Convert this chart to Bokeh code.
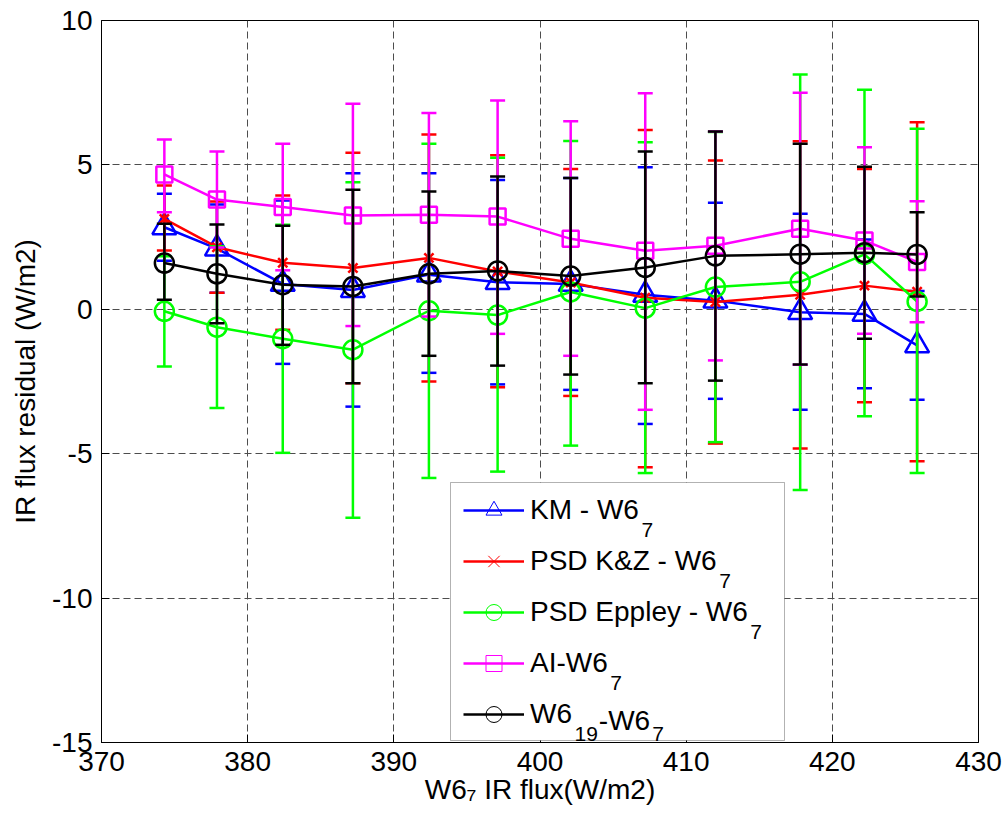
from bokeh.plotting import figure
from bokeh.models import (Range1d, Legend, LegendItem, Label, BoxAnnotation,
                          FixedTicker)
from bokeh.embed import file_html
from bokeh.resources import INLINE

# ---------------- data ----------------
x_flux = [374.3, 377.9, 382.4, 387.2, 392.4, 397.1, 402.1, 407.2, 412.0, 417.8, 422.2, 425.8]

km_mean = [2.84, 2.10, 0.88, 0.67, 1.20, 0.94, 0.88, 0.50, 0.30, -0.10, -0.16, -1.25]
km_hi = [4.00, 3.63, 3.77, 4.71, 4.71, 4.48, 4.55, 4.92, 3.69, 3.31, 2.42, 0.63]
km_lo = [1.68, 0.57, -1.89, -3.37, -2.20, -2.60, -2.79, -3.97, -3.10, -3.48, -2.73, -3.13]

kz_mean = [3.13, 2.15, 1.61, 1.43, 1.78, 1.31, 0.93, 0.40, 0.25, 0.50, 0.82, 0.61]
kz_hi = [4.29, 3.73, 3.94, 5.42, 6.05, 5.33, 4.86, 6.21, 5.15, 5.82, 4.86, 6.48]
kz_lo = [2.04, 0.57, -0.71, -2.56, -2.50, -2.70, -3.00, -5.47, -4.65, -4.82, -3.22, -5.26]

ep_mean = [-0.07, -0.62, -1.02, -1.40, -0.05, -0.20, 0.60, 0.04, 0.77, 0.95, 1.90, 0.27]
ep_hi = [1.84, 2.18, 2.93, 4.40, 5.73, 5.25, 5.83, 5.78, 6.14, 8.13, 7.60, 6.25]
ep_lo = [-1.98, -3.42, -4.97, -7.22, -5.84, -5.62, -4.72, -5.67, -4.60, -6.26, -3.70, -5.67]

ai_mean = [4.67, 3.80, 3.54, 3.25, 3.27, 3.21, 2.44, 2.03, 2.20, 2.79, 2.38, 1.64]
ai_hi = [5.88, 5.46, 5.73, 7.12, 6.80, 7.23, 6.51, 7.48, 6.16, 7.50, 5.61, 3.74]
ai_lo = [3.36, 2.14, 1.35, -0.58, -0.25, -0.85, -1.61, -3.48, -1.77, -1.92, -0.85, -0.45]

w19_mean = [1.60, 1.23, 0.85, 0.79, 1.23, 1.33, 1.15, 1.45, 1.85, 1.91, 1.96, 1.90]
w19_hi = [2.96, 2.94, 2.89, 4.14, 4.08, 4.60, 4.55, 5.46, 6.16, 5.73, 4.94, 3.36]
w19_lo = [0.33, -0.48, -1.23, -2.56, -1.61, -1.95, -2.26, -2.56, -2.47, -1.91, -1.02, 0.44]

x_ticks = [370, 380, 390, 400, 410, 420, 430]
y_ticks = [-15, -10, -5, 0, 5, 10]

legend_main = ["KM - W6", "PSD K&Z - W6", "PSD Eppley - W6", "AI-W6", "W6"]
x_label = "W6\u2087 IR flux(W/m2)"
y_label = "IR flux residual (W/m2)"

# ---------------- styling ----------------
FONT = "Liberation Sans"
FS = 28
SUB = 21
W, H = 1008, 820
LEFT, RIGHT, TOP, BOTTOM = 101, 30, 20, 78
FRAME_W = W - LEFT - RIGHT
FRAME_H = H - TOP - BOTTOM

# Arial / Liberation Sans advance widths (per 1000 em)
AW = {" ": 278, "&": 667, "(": 333, ")": 333, "-": 333, "/": 278,
      "A": 667, "D": 722, "E": 667, "I": 278, "K": 667, "M": 833, "P": 667,
      "R": 722, "S": 667, "W": 944, "Z": 611, "a": 556, "d": 556, "e": 556,
      "f": 278, "i": 222, "l": 222, "m": 833, "p": 556, "r": 333, "s": 500,
      "u": 556, "x": 500, "y": 500}
for d in "0123456789":
    AW[d] = 556


def tw(s, size):
    return sum(AW.get(c, 556) for c in s) * size / 1000.0


p = figure(width=W, height=H, x_range=Range1d(370, 430), y_range=Range1d(-15, 10),
           output_backend="svg", toolbar_location=None,
           min_border_left=LEFT, min_border_right=RIGHT,
           min_border_top=TOP, min_border_bottom=BOTTOM)
p.background_fill_color = "white"
p.border_fill_color = "white"
p.outline_line_color = "black"
p.outline_line_width = 1

for ax, ticks in ((p.xaxis, x_ticks), (p.yaxis, y_ticks)):
    ax.ticker = FixedTicker(ticks=ticks)
    ax.major_label_overrides = {t: str(t) for t in ticks}
    ax.major_tick_in = 8
    ax.major_tick_out = 0
    ax.minor_tick_line_color = None
    ax.axis_line_color = "black"
    ax.major_tick_line_color = "black"
    ax.major_label_text_font = FONT
    ax.major_label_text_font_size = f"{FS}px"
    ax.major_label_text_color = "black"
    ax.axis_label_text_font = FONT
    ax.axis_label_text_font_size = f"{FS}px"
    ax.axis_label_text_font_style = "normal"
    ax.axis_label_text_color = "black"
p.xaxis.major_label_standoff = 9
p.yaxis.major_label_standoff = 9
p.xaxis.axis_label = x_label
p.yaxis.axis_label = y_label
p.xaxis.axis_label_standoff = 0
p.yaxis.axis_label_standoff = 8

for g in (p.xgrid, p.ygrid):
    g.grid_line_color = "#4d4d4d"
    g.grid_line_dash = "7 4"
    g.grid_line_width = 1

series = [
    (km_mean, km_lo, km_hi, "#0000FF", "triangle", 24),
    (kz_mean, kz_lo, kz_hi, "#FF0000", "x", 13),
    (ep_mean, ep_lo, ep_hi, "#00FF00", "circle", 19),
    (ai_mean, ai_lo, ai_hi, "#FF00FF", "square", 16),
    (w19_mean, w19_lo, w19_hi, "#000000", "circle", 19),
]

LW = 2.5
legend_items = []
for (mean, lo, hi, col, mk, sz), lab in zip(series, legend_main):
    p.segment(x0=x_flux, y0=lo, x1=x_flux, y1=hi, line_color=col, line_width=LW)
    p.scatter(x=x_flux, y=lo, marker="dash", size=15, line_color=col, line_width=LW)
    p.scatter(x=x_flux, y=hi, marker="dash", size=15, line_color=col, line_width=LW)
    ln = p.line(x=x_flux, y=mean, line_color=col, line_width=LW)
    p.scatter(x=x_flux, y=mean, marker=mk, size=sz, line_color=col,
              fill_color=None, line_width=LW)
    proxy = p.scatter(x=x_flux, y=mean, marker=mk, size=sz, line_color=col,
                      fill_color=None, line_width=1, visible=False)
    legend_items.append(LegendItem(label=lab, renderers=[ln, proxy]))

# legend frame
BOX_L, BOX_R, BOX_T, BOX_B = 450, 784, 482, 740
p.add_layout(BoxAnnotation(left=BOX_L - LEFT, right=BOX_R - LEFT,
                           top=TOP + FRAME_H - BOX_T, bottom=TOP + FRAME_H - BOX_B,
                           left_units="screen", right_units="screen",
                           top_units="screen", bottom_units="screen",
                           fill_color="white", fill_alpha=1.0,
                           line_color="black", line_width=1))

GLYPH_X = 463
GLYPH_W = 61
STANDOFF = 6
ROW_H = 40
SPACING = 11
ROW0 = 509.5
leg = Legend(items=legend_items,
             location=(GLYPH_X - LEFT, TOP + FRAME_H - (ROW0 - ROW_H / 2 + 5 * ROW_H + 4 * SPACING)),
             padding=0, spacing=SPACING, glyph_height=ROW_H, glyph_width=GLYPH_W,
             label_standoff=STANDOFF, label_height=ROW_H,
             label_text_font=FONT, label_text_font_size=f"{FS}px",
             label_text_color="black",
             border_line_alpha=0, background_fill_alpha=0)
p.add_layout(leg)

TEXT_X = GLYPH_X + GLYPH_W + STANDOFF


def put(text, px, baseline_py, size):
    p.add_layout(Label(x=px - LEFT, y=TOP + FRAME_H - baseline_py, x_units="screen",
                       y_units="screen", text=text, text_font=FONT,
                       text_font_size=f"{size}px", text_color="black",
                       text_align="left", text_baseline="alphabetic"))


# legend subscripts
for i, lab in enumerate(legend_main):
    cy = ROW0 + i * (ROW_H + SPACING)
    xs = TEXT_X + tw(lab, FS) + 2
    if i < 4:
        put("7", xs, cy + 20, SUB)
    else:
        put("19", xs, cy + 20, SUB)
        xs2 = xs + tw("19", SUB) + 1
        put("-W6", xs2, cy + 6, FS)
        put("7", xs2 + tw("-W6", FS) + 2, cy + 20, SUB)

open("out.html", "w").write(file_html(p, INLINE))
